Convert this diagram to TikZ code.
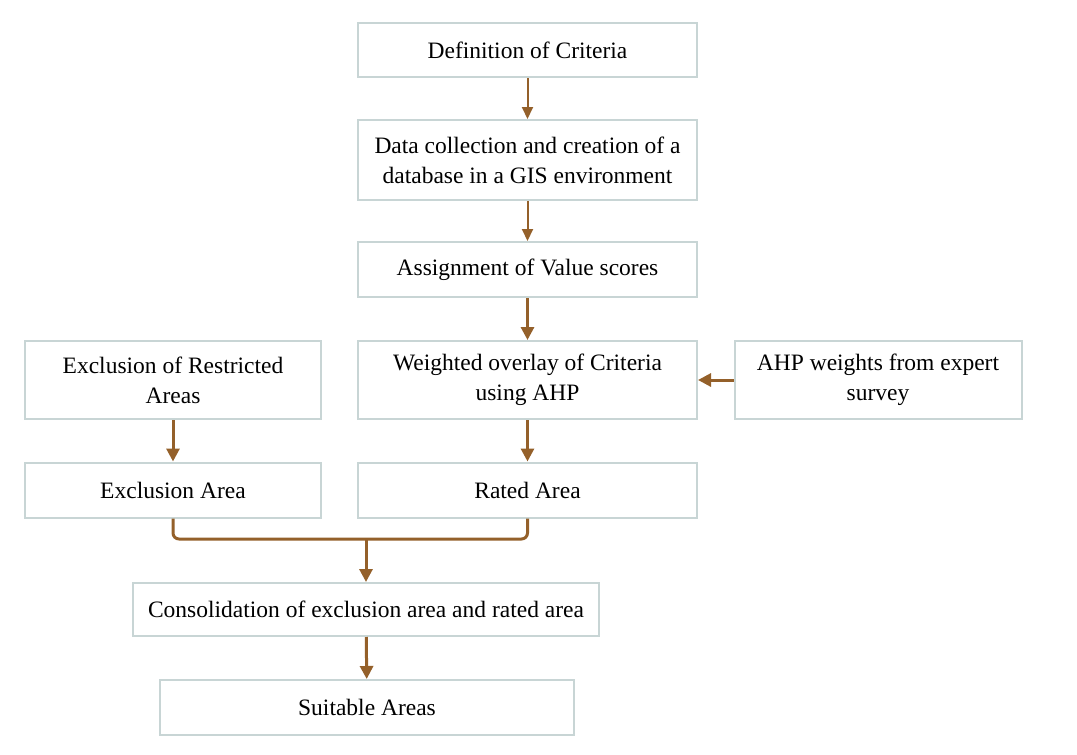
\documentclass[tikz,border=0pt]{standalone}
\usepackage{fontspec}
\setmainfont{Liberation Serif}
\usetikzlibrary{arrows.meta}
\definecolor{boxline}{HTML}{C8D5D5}
\definecolor{arrowc}{HTML}{94602A}
\tikzset{
  stepbox/.style={draw=boxline, line width=2pt, fill=white, align=center, inner sep=0pt,
    font=\fontsize{23.5}{30}\selectfont},
  thinarr/.style={draw=arrowc, line width=2pt, -{Triangle[length=12pt,width=11pt]}},
  thickarr/.style={draw=arrowc, line width=3pt, -{Triangle[length=13pt,width=13pt]}},
  thickline/.style={draw=arrowc, line width=3pt, rounded corners=6pt},
}
\begin{document}
\begin{tikzpicture}[x=1pt,y=-1pt]
\useasboundingbox (0,0) rectangle (1077,755);
\node[stepbox, minimum width=339pt, minimum height=54pt] (def) at (527.5,50) {Definition of Criteria};
\node[stepbox, minimum width=339pt, minimum height=80pt] (data) at (527.5,160) {Data collection and creation of a\\database in a GIS environment};
\node[stepbox, minimum width=339pt, minimum height=55pt] (val) at (527.5,269.5) {Assignment of Value scores};
\node[stepbox, minimum width=339pt, minimum height=78pt] (wo) at (527.5,380) {Weighted overlay of Criteria\\using AHP};
\node[stepbox, minimum width=296pt, minimum height=78pt] (excl) at (173,380) {Exclusion of Restricted\\Areas};
\node[stepbox, minimum width=287pt, minimum height=78pt] (ahp) at (878,380) {AHP weights from expert\\survey};
\node[stepbox, minimum width=296pt, minimum height=55pt] (exa) at (173,490) {Exclusion Area};
\node[stepbox, minimum width=339pt, minimum height=55pt] (rat) at (527.5,490) {Rated Area};
\node[stepbox, minimum width=466pt, minimum height=53pt] (con) at (366,609.5) {Consolidation of exclusion area and rated area};
\node[stepbox, minimum width=414pt, minimum height=55pt] (suit) at (367,707.5) {Suitable Areas};
\coordinate (j) at (366,539);
\draw[thinarr] (def) -- (data);
\draw[thinarr] (data) -- (val);
\draw[thickarr] (val) -- (wo);
\draw[thickarr] (ahp) -- (wo);
\draw[thickarr] (excl) -- (exa);
\draw[thickarr] (wo) -- (rat);
\draw[thickline] (exa.south) |- (j) -| (rat.south);
\draw[thickarr] (j) -- (con.north);
\draw[thickarr] (con) -- (suit);
\end{tikzpicture}
\end{document}
